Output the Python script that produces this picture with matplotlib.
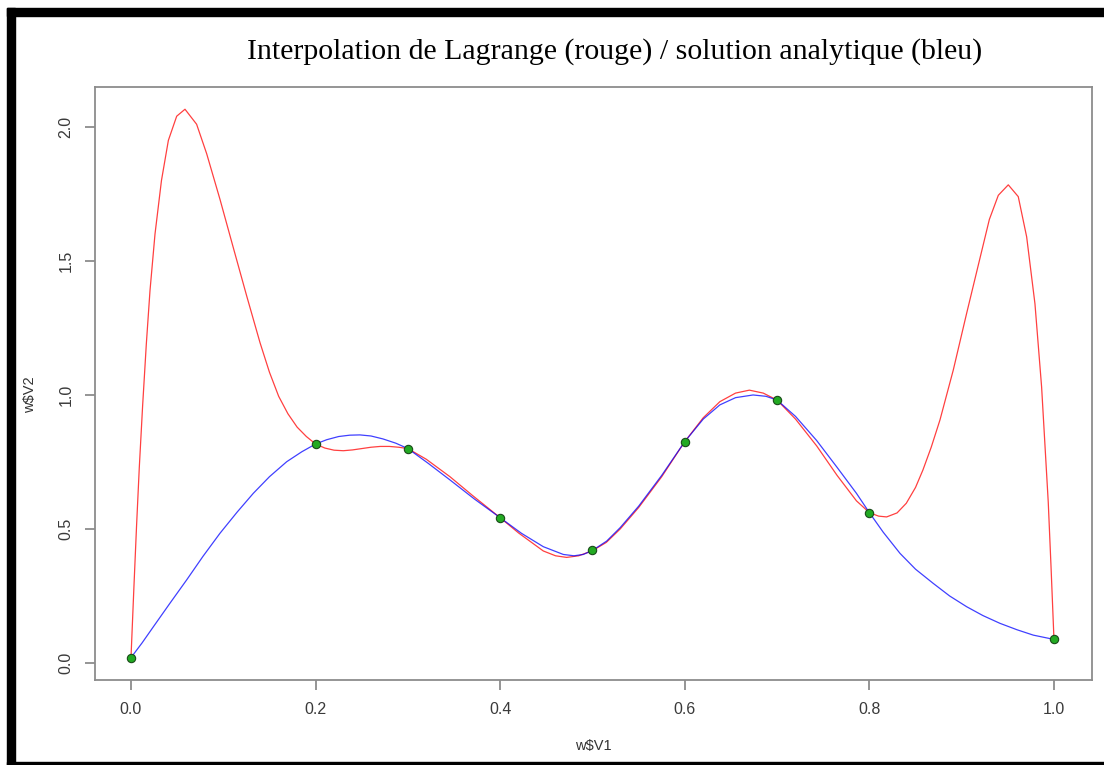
import matplotlib
matplotlib.use("Agg")
import matplotlib.pyplot as plt
from matplotlib.patches import Rectangle

# Data points (green)
pts_x = [0.0, 0.2, 0.3, 0.4, 0.5, 0.6, 0.7, 0.8, 1.0]
pts_y = [0.02, 0.817, 0.80, 0.542, 0.42, 0.826, 0.982, 0.561, 0.088]

# Lagrange interpolation curve (red)
red_x = [0.0, 0.003, 0.006, 0.009, 0.0126, 0.0166, 0.0206, 0.026, 0.033, 0.0405,
         0.0495, 0.0585, 0.0711, 0.082, 0.0964, 0.1108, 0.1253, 0.1398, 0.15, 0.16,
         0.17, 0.18, 0.19, 0.2, 0.21, 0.22, 0.23, 0.24, 0.25, 0.26,
         0.27, 0.28, 0.29, 0.3, 0.32, 0.3456, 0.37, 0.4, 0.42, 0.4467,
         0.46, 0.472, 0.485, 0.5, 0.515, 0.53, 0.55, 0.575, 0.6, 0.62,
         0.638, 0.655, 0.67, 0.685, 0.7, 0.72, 0.7429, 0.765, 0.786, 0.8,
         0.81, 0.8187, 0.83, 0.84, 0.85, 0.858, 0.867, 0.8765, 0.8909, 0.9054,
         0.9198, 0.93, 0.9397, 0.9505, 0.9613, 0.9704, 0.9794, 0.9866, 0.9938, 0.9968,
         1.0]
red_y = [0.02, 0.27, 0.51, 0.73, 0.96, 1.19, 1.39, 1.60, 1.80, 1.95,
         2.04, 2.066, 2.01, 1.90, 1.73, 1.55, 1.37, 1.195, 1.085, 0.995,
         0.93, 0.88, 0.845, 0.817, 0.802, 0.794, 0.792, 0.795, 0.80, 0.805,
         0.808, 0.808, 0.805, 0.80, 0.76, 0.695, 0.625, 0.542, 0.485, 0.418,
         0.40, 0.394, 0.40, 0.419, 0.45, 0.50, 0.58, 0.695, 0.826, 0.915,
         0.975, 1.007, 1.018, 1.007, 0.981, 0.91, 0.81, 0.70, 0.605, 0.561,
         0.548, 0.545, 0.56, 0.596, 0.655, 0.72, 0.805, 0.907, 1.093, 1.305,
         1.51, 1.655, 1.745, 1.784, 1.74, 1.59, 1.34, 1.03, 0.60, 0.36,
         0.088]

# Analytic solution (blue)
blue_x = [0.0, 0.012, 0.0242, 0.042, 0.0603, 0.078, 0.0964, 0.115, 0.1325, 0.15,
          0.1687, 0.185, 0.2, 0.212, 0.225, 0.237, 0.248, 0.26, 0.273, 0.287,
          0.3, 0.322, 0.3456, 0.372, 0.4, 0.423, 0.4467, 0.4684, 0.48, 0.49,
          0.5, 0.5154, 0.53, 0.55, 0.575, 0.6, 0.62, 0.638, 0.655, 0.674,
          0.688, 0.7, 0.72, 0.7429, 0.765, 0.786, 0.8, 0.815, 0.8332, 0.85,
          0.8692, 0.887, 0.9054, 0.923, 0.9415, 0.96, 0.9776, 1.0]
blue_y = [0.02, 0.075, 0.135, 0.222, 0.31, 0.398, 0.484, 0.563, 0.633, 0.695,
          0.751, 0.788, 0.817, 0.833, 0.845, 0.850, 0.851, 0.847, 0.836, 0.82,
          0.80, 0.745, 0.683, 0.612, 0.542, 0.484, 0.434, 0.405, 0.400, 0.405,
          0.42, 0.455, 0.505, 0.585, 0.70, 0.826, 0.91, 0.963, 0.99, 1.0,
          0.995, 0.981, 0.92, 0.83, 0.73, 0.633, 0.561, 0.488, 0.409, 0.35,
          0.297, 0.25, 0.21, 0.177, 0.148, 0.124, 0.104, 0.088]

x_ticks = [0.0, 0.2, 0.4, 0.6, 0.8, 1.0]
y_ticks = [0.0, 0.5, 1.0, 1.5, 2.0]

W, H = 1104, 765
fig = plt.figure(figsize=(W / 100, H / 100), dpi=100)
fig.patch.set_facecolor("white")

ax = fig.add_axes([95 / W, 1 - 680 / H, (1092 - 95) / W, (680 - 87) / H])
ax.plot(red_x, red_y, color="#ff0000", lw=0.9, alpha=0.75, solid_joinstyle="round")
ax.plot(blue_x, blue_y, color="#0000ff", lw=0.9, alpha=0.75, solid_joinstyle="round")
ax.plot(pts_x, pts_y, "o", ms=6, mfc="#22aa22", mec="#1a4a1a", mew=0.8, zorder=5)

ax.set_xlim(-0.039, 1.0412)
ax.set_ylim(-0.0634, 2.149)

grey = "#8c8c8c"
for s in ax.spines.values():
    s.set_color(grey)
    s.set_linewidth(1.3)

ax.set_xticks(x_ticks)
ax.set_xticklabels([f"{v:.1f}" for v in x_ticks])
ax.set_yticks(y_ticks)
ax.set_yticklabels([f"{v:.1f}" for v in y_ticks], rotation=90, va="center")
ax.tick_params(direction="out", length=7, width=1.3, color=grey,
               labelcolor="#3a3a3a", labelsize=11.5, pad=8.5)
for lab in ax.get_xticklabels() + ax.get_yticklabels():
    lab.set_family(["Liberation Sans", "DejaVu Sans"])

fig.text(593 / W, 1 - 746 / H, "w$V1", ha="center", va="center",
         fontsize=10.5, color="#333333", family=["Liberation Sans", "DejaVu Sans"])
fig.text(30 / W, 1 - 395 / H, "w$V2", ha="center", va="center", rotation=90,
         fontsize=10.5, color="#333333", family=["Liberation Sans", "DejaVu Sans"])

fig.text(615 / W, 1 - 52 / H, "Interpolation de Lagrange (rouge) / solution analytique (bleu)",
         ha="center", va="center", fontsize=21.5, color="#000000",
         family=["Liberation Serif", "DejaVu Serif"])

# Black frame
def frame_rect(x0, y0, x1, y1):
    fig.patches.append(Rectangle((x0 / W, 1 - y1 / H), (x1 - x0) / W, (y1 - y0) / H,
                                 transform=fig.transFigure, color="black", zorder=10))

frame_rect(7, 8, W, 16)
frame_rect(7, 8, 15, H)
frame_rect(7, 762, W, H)

fig.savefig("out.png", dpi=100)
